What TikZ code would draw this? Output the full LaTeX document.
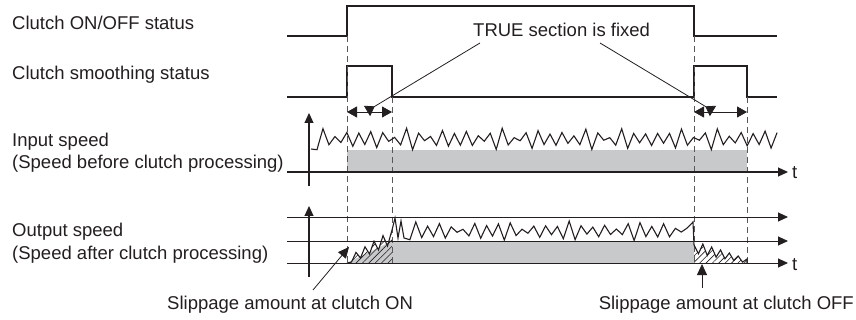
\documentclass[tikz,border=0pt]{standalone}
\usepackage{fontspec}
\setmainfont{Liberation Sans}
\usetikzlibrary{arrows.meta,patterns.meta}
\definecolor{ink}{HTML}{231F20}
\definecolor{areagray}{HTML}{C8C9CB}
\begin{document}
\begin{tikzpicture}[x=1pt,y=-1pt,
  lbl/.style={inner sep=0pt, anchor=base west, text=ink, font=\fontsize{18.5}{22}\selectfont},
  sig/.style={line width=1.4pt, ink},
  axis/.style={line width=1.1pt, ink, -{Triangle[length=10pt,width=9pt]}},
  guide/.style={ink!75, line width=0.9pt, dash pattern=on 6pt off 4pt},
  thinline/.style={line width=0.8pt, ink},
  head/.style={-{Triangle[length=11pt,width=10pt]}},
  rhead/.style={-{Triangle[length=9pt,width=12pt,reversed]}},
  dbl/.style={{Triangle[length=10pt,width=11pt]}-{Triangle[length=10pt,width=11pt]}},
  noise/.style={line width=1.1pt, ink, line join=miter},
  hatch/.style={pattern={Lines[angle=45,distance=4.5pt,line width=0.6pt]}, pattern color=ink},
  grayarea/.style={fill=areagray, draw=none},
]
\useasboundingbox (0,0) rectangle (856,320);

% labels
\node[lbl] (l1) at (12,30) {Clutch ON/OFF status};
\node[lbl] (l2) at (12,80) {Clutch smoothing status};
\node[lbl] (l3) at (12,147) {Input speed};
\node[lbl] (l4) at (12,169) {(Speed before clutch processing)};
\node[lbl] (l5) at (12,237) {Output speed};
\node[lbl] (l6) at (12,259) {(Speed after clutch processing)};
\node[lbl] (tru) at (473,37) {TRUE section is fixed};
\node[lbl] (son) at (167,309) {Slippage amount at clutch ON};
\node[lbl, anchor=base east] (soff) at (854,309) {Slippage amount at clutch OFF};
\node[lbl] (t1) at (792,179) {t};
\node[lbl] (t2) at (792,270) {t};

% signals
\draw[sig] (287,36) -- (347,36) -- (347,6) -- (694,6) -- (694,36) -- (777,36);
\draw[sig] (287,97) -- (347,97) -- (347,66) -- (392,66) -- (392,97) -- (694,97) -- (694,66) -- (747,66) -- (747,97) -- (777,97);

% shaded areas
\path[grayarea] (347,150) rectangle (747,172);
\path[grayarea] (392,241) rectangle (694,263);
\path[grayarea] (347,263) -- (392,241) -- (392,263) -- cycle;

% hatched slippage areas
\fill[hatch] (347,263) \foreach \i in {1,...,10} { -- ({347+4.5*\i}, {261-24*\i/10 + (3+4*\i/10)*(2*mod(\i,2)-1)}) } -- (392,263) -- cycle;
\fill[hatch] (694,245) \foreach \i in {1,...,12} { -- ({694+4.417*\i}, {247 + 14*\i/12 + (6-4*\i/12)*(2*mod(\i,2)-1)}) } -- (747,263) -- (694,263) -- cycle;

% guides
\coordinate (g1a) at (347,36);  \coordinate (g1b) at (347,263);
\coordinate (g2a) at (392,97);  \coordinate (g2b) at (392,263);
\coordinate (g3a) at (694,36);  \coordinate (g3b) at (694,263);
\coordinate (g4a) at (747,97);  \coordinate (g4b) at (747,263);
\draw[guide] (g1a) -- (g1b);
\draw[guide] (g2a) -- (g2b);
\draw[guide] (g3a) -- (g3b);
\draw[guide] (g4a) -- (g4b);

% input noise
\draw[noise] (311,149) \foreach \i in {1,...,78} { -- ({311+5.975*\i}, {139 + 6*(2*mod(\i,2)-1)*(1+0.5*sin(\i*71)) + 2.5*sin(\i*131)}) };

% output noise
\draw[noise] (347,263) \foreach \i in {1,...,10} { -- ({347+4.5*\i}, {261-24*\i/10 + (3+4*\i/10)*(2*mod(\i,2)-1)}) }
  -- (395,218) -- (398,238) -- (401,221) -- (404,238)
  \foreach \i in {1,...,48} { -- ({404+5.9*\i}, {231 + 5.5*(2*mod(\i,2)-1)*(1+0.45*sin(\i*67)) + 2*sin(\i*151)}) }
  -- (693,222) -- (694,245)
  \foreach \i in {1,...,12} { -- ({694+4.417*\i}, {247 + 14*\i/12 + (6-4*\i/12)*(2*mod(\i,2)-1)}) } -- (747,263);

% axes
\coordinate (ia0) at (309,186); \coordinate (ia1) at (309,113);
\coordinate (ih0) at (287,172); \coordinate (ih1) at (788,172);
\draw[axis] (ia0) -- (ia1);
\draw[axis] (ih0) -- (ih1);
\coordinate (oa0) at (309,277); \coordinate (oa1) at (309,206);
\coordinate (o10) at (287,217); \coordinate (o11) at (788,217);
\coordinate (o20) at (287,241); \coordinate (o21) at (788,241);
\coordinate (o30) at (287,263); \coordinate (o31) at (788,263);
\draw[axis] (oa0) -- (oa1);
\draw[axis, line width=0.9pt] (o10) -- (o11);
\draw[axis, line width=0.9pt] (o20) -- (o21);
\draw[axis, line width=0.9pt] (o30) -- (o31);

% TRUE section arrows
\draw[thinline, dbl] (347,112) -- (392,112);
\draw[thinline, dbl] (694,112) -- (747,112);
\coordinate (ts1) at (480,43); \coordinate (te1) at (367,111);
\coordinate (ts2) at (600,43); \coordinate (te2) at (713,111);
\draw[thinline, rhead] (ts1) -- (te1);
\draw[thinline, rhead] (ts2) -- (te2);

% slippage arrows
\coordinate (os) at (313,290); \coordinate (oe) at (349,247);
\coordinate (fs) at (702,288); \coordinate (fe) at (702,264);
\draw[thinline, head] (os) -- (oe);
\draw[thinline, head] (fs) -- (fe);
\end{tikzpicture}
\end{document}
